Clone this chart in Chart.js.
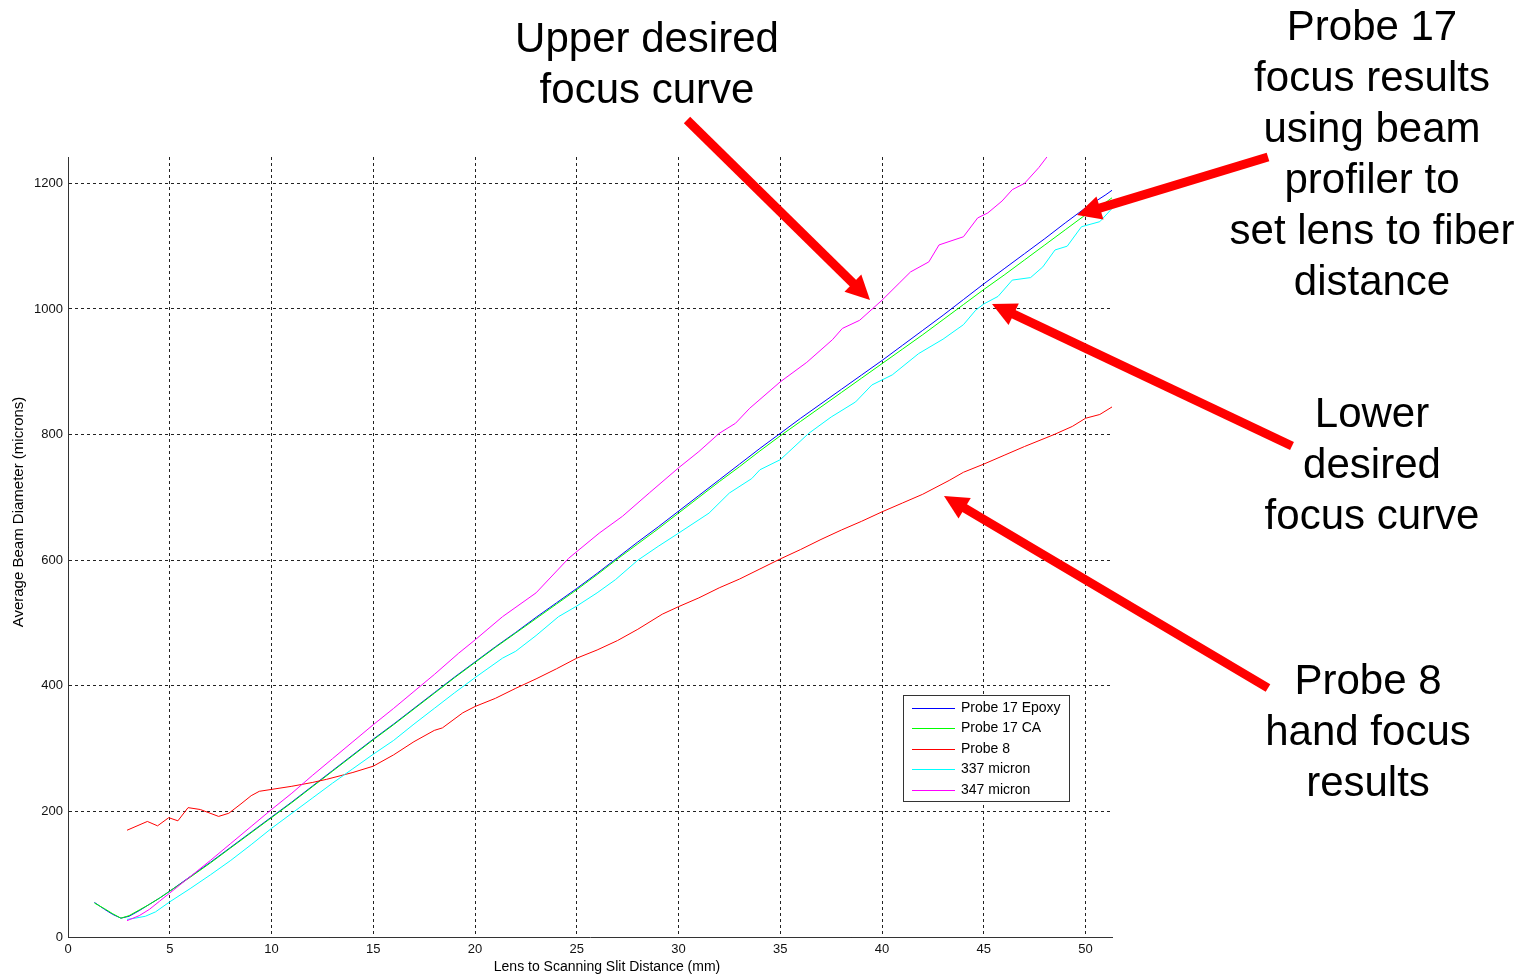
<!DOCTYPE html>
<html>
<head>
<meta charset="utf-8">
<title>Average Beam Diameter vs Lens to Scanning Slit Distance</title>
<script src="https://cdn.jsdelivr.net/npm/chart.js@4.4.1/dist/chart.umd.min.js"></script>
<style>
    html, body { margin: 0; padding: 0; background: #ffffff; }
    #wrap { position: relative; width: 1532px; height: 980px; }
</style>
</head>
<body>
<div id="wrap"><canvas id="chart-focus"></canvas></div>
<script>
// ---- data (x in mm, y in microns) ----
const seriesLabels = ['Probe 17 Epoxy', 'Probe 17 CA', 'Probe 8', '337 micron', '347 micron'];
const seriesColors = ['#0000ff', '#00ff00', '#ff0000', '#00ffff', '#ff00ff'];

const probe17X = [1.3, 1.8, 2.2, 2.6, 3, 3.5, 4, 4.5, 5, 6, 7, 8, 9, 10, 11, 12, 13, 14, 15, 16, 17, 18, 19, 20,
    21, 22, 23, 24, 25, 26, 27, 28, 29, 30, 31, 32, 33, 34, 35, 36, 37, 38, 39, 40, 41, 42, 43, 44, 45, 46,
    47, 48, 49, 50, 51, 51.3];
const epoxyY = [55, 44, 36, 30, 33, 42, 52, 62, 73, 96, 119, 143, 167, 191, 215, 240, 265, 290, 315, 339, 364, 389, 414, 438,
    462, 485, 509, 532, 555, 579, 604, 629, 653, 678, 703, 728, 753, 778, 802, 826, 849, 872, 895, 918, 942, 966, 990, 1015, 1040, 1064,
    1088, 1112, 1137, 1161, 1182, 1189];
const caY = [54, 45, 37, 30, 34, 43, 52, 62, 73, 95, 118, 142, 166, 190, 214, 239, 264, 289, 314, 338, 363, 388, 413, 437,
    461, 484, 507, 530, 553, 577, 602, 626, 650, 675, 700, 725, 749, 774, 798, 821, 844, 867, 890, 913, 936, 959, 983, 1007, 1031, 1054,
    1078, 1102, 1126, 1150, 1170, 1177];

const probe8X = [2.9, 3.9, 4.4, 4.95, 5.4, 5.9, 6.5, 7.4, 7.9, 8.5, 9, 9.4, 10, 11, 12, 12.7, 14, 15, 16, 17, 18, 18.4, 19.4, 20,
    21, 22, 23, 24, 25, 26, 27, 28, 29.2, 30, 31, 32, 33, 34, 35, 36, 37, 38, 39, 40, 41, 42, 43.3, 44, 45, 46, 47, 48.45, 49.35, 50, 50.7, 51.3];
const probe8Y = [170, 184, 177, 190, 185, 206, 203, 192, 197, 212, 225, 232, 235, 240, 246, 251, 262, 272, 290, 311, 329, 333, 357, 367,
    380, 396, 411, 427, 444, 457, 472, 490, 514, 526, 540, 556, 570, 586, 602, 617, 633, 648, 662, 677, 691, 705, 727, 740, 753, 767, 781, 800, 813, 826, 832, 844];

const micron337X = [2.9, 3.3, 3.8, 4.3, 5, 6, 7, 8, 9, 10, 11, 12, 13, 14, 15, 16, 17, 18, 19, 20, 21.35, 22, 23, 24.1, 25, 26, 26.9,
    28, 29, 30, 31.5, 32.5, 33.6, 34, 35, 36.4, 37.5, 38.7, 39.5, 40.5, 41.8, 43, 44, 44.6, 45, 45.7, 46.4, 47.3, 47.9, 48.5, 49.1, 49.8, 50.7, 51.3];
const micron337Y = [28, 30, 33, 40, 56, 77, 99, 122, 147, 173, 197, 221, 245, 268, 291, 313, 339, 364, 389, 413, 444, 455, 480, 510, 527, 548, 569,
    600, 622, 643, 675, 707, 730, 744, 760, 802, 828, 852, 879, 895, 929, 952, 975, 998, 1008, 1020, 1046, 1050, 1067, 1094, 1100, 1131, 1139, 1160];

const micron347X = [2.9, 3.5, 4, 4.5, 5, 6, 7, 8, 9, 10, 11, 12, 13, 14, 15, 16, 17, 18, 19.2, 20, 21.35, 23, 24.6, 26.1, 27.25, 28.56,
    30, 31, 32, 32.8, 33.5, 35, 36.3, 37.56, 38.05, 38.9, 40, 40.84, 41.4, 42.3, 42.8, 44, 44.7, 45.2, 45.9, 46.4, 47, 47.7, 48.1, 48.4];
const micron347Y = [26, 34, 44, 57, 70, 96, 122, 149, 176, 203, 229, 257, 284, 311, 338, 364, 391, 418, 452, 473, 510, 548, 603, 643, 670, 707,
    747, 773, 802, 818, 842, 884, 915, 951, 969, 982, 1014, 1041, 1059, 1075, 1102, 1115, 1145, 1153, 1172, 1190, 1200, 1225, 1242, 1252];

const xMin = 0, xMax = 51.3, xStep = 5;
const yMin = 0, yMax = 1242, yStep = 200;

const xTitle = 'Lens to Scanning Slit Distance (mm)';
const yTitle = 'Average Beam Diameter (microns)';

// callout texts and arrows (canvas pixels)
const callouts = [
    { lines: ['Upper desired', 'focus curve'], x: 647, y: 52 },
    { lines: ['Probe 17', 'focus results', 'using beam', 'profiler to', 'set lens to fiber', 'distance'], x: 1372, y: 40 },
    { lines: ['Lower', 'desired', 'focus curve'], x: 1372, y: 427 },
    { lines: ['Probe 8', 'hand focus', 'results'], x: 1368, y: 694 }
];
const arrows = [
    { from: [687, 120], to: [870, 300] },
    { from: [1268, 157], to: [1077, 215] },
    { from: [1292, 446], to: [992, 304] },
    { from: [1268, 688], to: [944, 496] }
];

const FONT = "'Liberation Sans', Arial, sans-serif";

function pairs(xs, ys) {
    return xs.map((x, i) => ({ x: x, y: ys[i] }));
}

const seriesData = [
    pairs(probe17X, epoxyY),
    pairs(probe17X, caY),
    pairs(probe8X, probe8Y),
    pairs(micron337X, micron337Y),
    pairs(micron347X, micron347Y)
];

// lower order is drawn on top (magenta last, like MATLAB plot order)
const drawOrder = [5, 4, 3, 2, 1];

function drawArrow(ctx, a) {
    const [x1, y1] = a.from, [x2, y2] = a.to;
    const ang = Math.atan2(y2 - y1, x2 - x1);
    const headLen = 24, headHalf = 12, shaft = 9;
    const bx = x2 - headLen * Math.cos(ang), by = y2 - headLen * Math.sin(ang);
    ctx.save();
    ctx.strokeStyle = '#ff0000';
    ctx.fillStyle = '#ff0000';
    ctx.lineWidth = shaft;
    ctx.lineCap = 'butt';
    ctx.beginPath();
    ctx.moveTo(x1, y1);
    ctx.lineTo(bx + 2 * Math.cos(ang), by + 2 * Math.sin(ang));
    ctx.stroke();
    ctx.beginPath();
    ctx.moveTo(x2, y2);
    ctx.lineTo(bx + headHalf * Math.sin(ang), by - headHalf * Math.cos(ang));
    ctx.lineTo(bx - headHalf * Math.sin(ang), by + headHalf * Math.cos(ang));
    ctx.closePath();
    ctx.fill();
    ctx.restore();
}

const extrasPlugin = {
    id: 'extras',
    afterDraw(chart) {
        const ctx = chart.ctx;
        const area = chart.chartArea;

        // axis titles
        ctx.save();
        ctx.fillStyle = '#000';
        ctx.font = '14px ' + FONT;
        ctx.textAlign = 'center';
        ctx.textBaseline = 'middle';
        ctx.fillText(xTitle, 607, 967);
        ctx.translate(19, 512);
        ctx.rotate(-Math.PI / 2);
        ctx.font = '15px ' + FONT;
        ctx.fillText(yTitle, 0, 0);
        ctx.restore();

        // legend box inside the plot
        const lx = area.right - 209, ly = area.bottom - 242, lw = 166, lh = 106;
        ctx.save();
        ctx.fillStyle = '#ffffff';
        ctx.fillRect(lx, ly, lw, lh);
        ctx.strokeStyle = '#333';
        ctx.lineWidth = 1;
        ctx.strokeRect(lx + 0.5, ly + 0.5, lw, lh);
        ctx.font = '14px ' + FONT;
        ctx.textBaseline = 'middle';
        ctx.textAlign = 'left';
        chart.data.datasets.forEach((ds, i) => {
            const ry = Math.round(ly + 12.5 + i * 20.5) + 0.5;
            ctx.strokeStyle = ds.borderColor;
            ctx.beginPath();
            ctx.moveTo(lx + 9, ry);
            ctx.lineTo(lx + 52, ry);
            ctx.stroke();
            ctx.fillStyle = '#000';
            ctx.fillText(ds.label, lx + 58, ry);
        });
        ctx.restore();

        // callouts
        ctx.save();
        ctx.fillStyle = '#000';
        ctx.font = '42px ' + FONT;
        ctx.textAlign = 'center';
        ctx.textBaseline = 'alphabetic';
        callouts.forEach(c => {
            c.lines.forEach((t, k) => ctx.fillText(t, c.x, c.y + k * 51));
        });
        ctx.restore();

        arrows.forEach(a => drawArrow(ctx, a));
    }
};

new Chart(document.getElementById('chart-focus').getContext('2d'), {
    type: 'scatter',
    data: {
        datasets: seriesData.map((d, i) => ({
            label: seriesLabels[i],
            data: d,
            showLine: true,
            borderColor: seriesColors[i],
            backgroundColor: seriesColors[i],
            borderWidth: 1,
            pointRadius: 0,
            tension: 0,
            order: drawOrder[i]
        }))
    },
    options: {
        responsive: true,
        maintainAspectRatio: false,
        animation: false,
        layout: { padding: { left: 0, top: 157, right: 420, bottom: 0 } },
        plugins: {
            legend: { display: false },
            tooltip: { enabled: false }
        },
        scales: {
            x: {
                type: 'linear',
                min: xMin,
                max: xMax,
                afterFit: s => { s.height = 43; },
                ticks: {
                    stepSize: xStep,
                    includeBounds: false,
                    maxRotation: 0,
                    padding: 5,
                    color: '#111',
                    font: { family: FONT, size: 13 },
                    callback: v => String(v)
                },
                grid: { color: '#222', lineWidth: 1, drawTicks: false },
                border: { color: '#333', width: 1, dash: [3, 3] }
            },
            y: {
                type: 'linear',
                min: yMin,
                max: yMax,
                afterFit: s => { s.width = 68; },
                ticks: {
                    stepSize: yStep,
                    includeBounds: false,
                    padding: 5,
                    color: '#111',
                    font: { family: FONT, size: 13 },
                    callback: v => String(v)
                },
                grid: { color: '#222', lineWidth: 1, drawTicks: false },
                border: { color: '#333', width: 1, dash: [3, 3] }
            }
        }
    },
    plugins: [extrasPlugin]
});
</script>
</body>
</html>
